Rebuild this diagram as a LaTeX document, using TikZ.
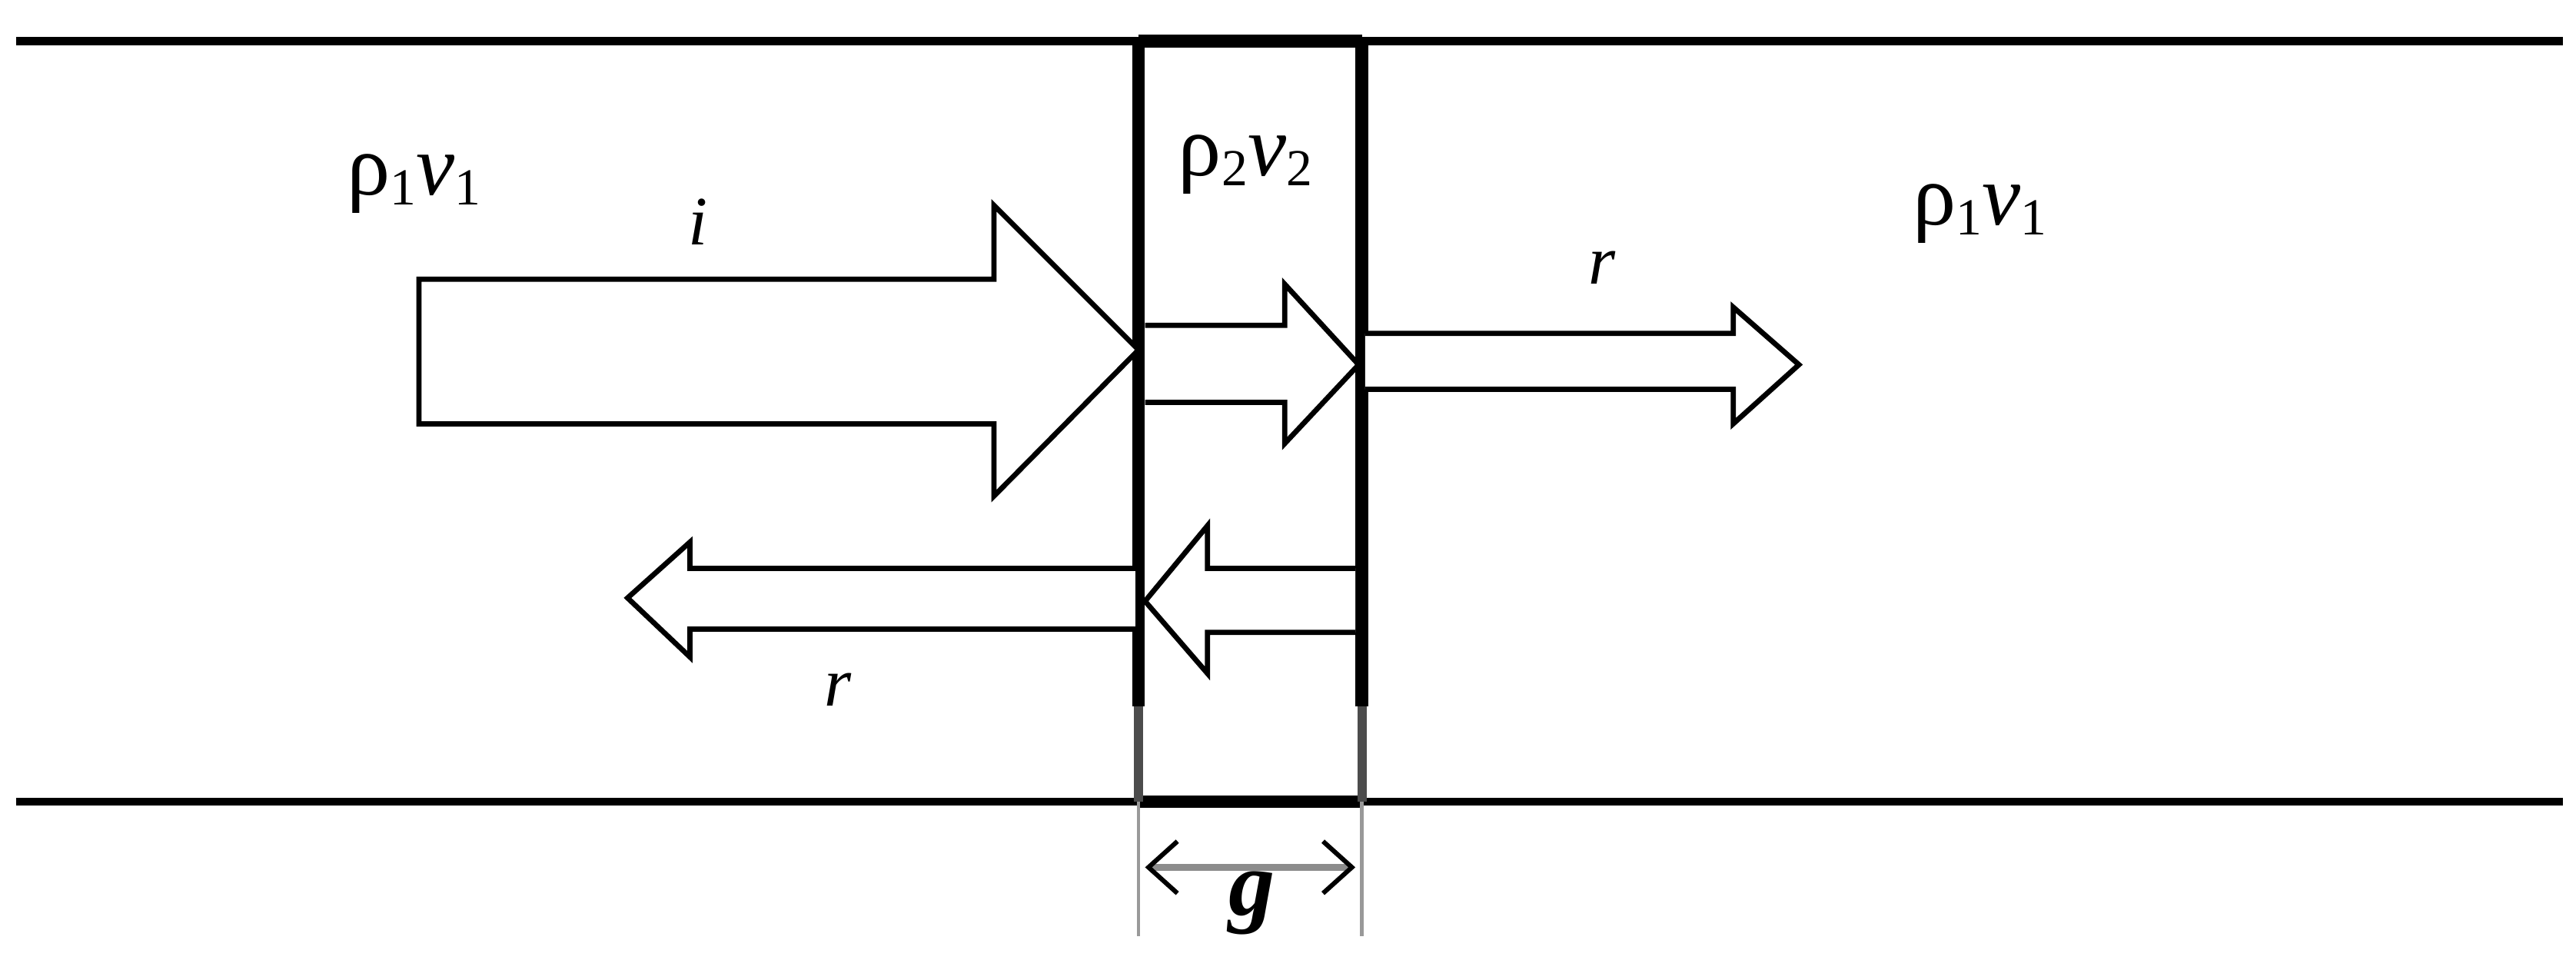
\documentclass[tikz,border=0pt]{standalone}
\usepackage{fontspec}
\setmainfont{Liberation Serif}
\usetikzlibrary{arrows.meta}
\newcommand{\rv}[1]{ρ\raisebox{-0.25ex}{\fontsize{9}{9}\selectfont #1}\textit{v}\raisebox{-0.25ex}{\fontsize{9}{9}\selectfont #1}}
\begin{document}
\begin{tikzpicture}[x=0.01cm,y=-0.01cm,
  bigarrow/.style={draw=black,line width=0.9pt,fill=white,line join=miter},
  wall/.style={line width=2.2pt},
  lab/.style={font=\fontsize{15}{15}\selectfont,inner sep=0pt},
  small/.style={font=\fontsize{12}{12}\selectfont\itshape,inner sep=0pt}]
\useasboundingbox (0,0) rectangle (1568,590.5);
% guide lines
\draw[line width=1.4pt] (10,25) -- (1560,25);
\draw[line width=1.4pt] (10,488) -- (1560,488);
% slab
\draw[wall] (693,25) -- (829,25);
\draw[wall] (693,488) -- (829,488);
\draw[wall] (693,25) -- (693,430);
\draw[wall] (829,25) -- (829,430);
\draw[line width=1.6pt,black!70] (693,430) -- (693,488);
\draw[line width=1.6pt,black!70] (829,430) -- (829,488);
\draw[line width=0.6pt,black!40] (693,488) -- (693,570);
\draw[line width=0.6pt,black!40] (829,488) -- (829,570);
\draw[line width=1.3pt,black!45,{Straight Barb[length=5pt,width=9pt,black,line width=0.8pt]}-{Straight Barb[length=5pt,width=9pt,black,line width=0.8pt]}] (697,528) -- (825,528);
\node (g) [inner sep=0pt,font=\fontsize{16}{16}\selectfont\bfseries\itshape] at (762,550) {g};
% incident arrow
\draw[bigarrow] (255,170) -- (605,170) -- (605,125) -- (693,213) -- (605,302) -- (605,258) -- (255,258) -- cycle;
% inner forward arrow
\draw[bigarrow] (697,198) -- (782,198) -- (782,173) -- (827,222) -- (782,270) -- (782,245) -- (697,245);
% transmitted arrow
\draw[bigarrow] (831,203) -- (1055,203) -- (1055,187) -- (1095,222) -- (1055,258) -- (1055,237) -- (831,237);
% reflected left
\draw[bigarrow] (691,346) -- (420,346) -- (420,330) -- (382,364) -- (420,400) -- (420,383) -- (691,383);
% inner reflected
\draw[bigarrow] (825,346) -- (735,346) -- (735,320) -- (697,366) -- (735,410) -- (735,385) -- (825,385);
% labels
\node (l1) [lab] at (252,112) {\rv{1}};
\node (l2) [lab] at (758,100) {\rv{2}};
\node (l3) [lab] at (1205,130) {\rv{1}};
\node (i) [small] at (425,135) {i};
\node (r1) [small] at (975,163) {r};
\node (r2) [small] at (510,420) {r};
\end{tikzpicture}
\end{document}
